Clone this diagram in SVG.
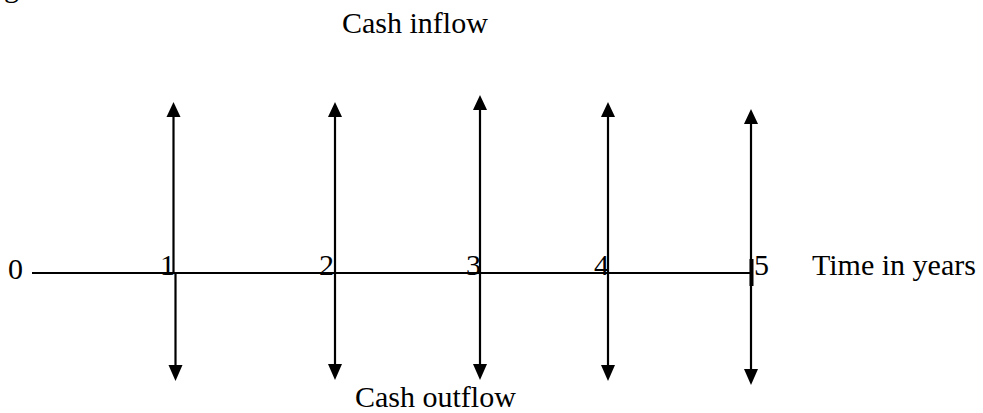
<svg xmlns="http://www.w3.org/2000/svg" width="983" height="413" viewBox="0 0 983 413">
<style>
  text { font-family: "Liberation Serif", "Times New Roman", serif; font-size: 30px; fill: #000; }
  .ln { stroke: #000; stroke-width: 2.2; fill: none; }
  .ah { fill: #000; }
</style>
<rect width="983" height="413" fill="#fff"/>
<text x="4" y="-3">g</text>
<g id="label-inflow"><text x="342" y="33">Cash inflow</text></g>
<g id="label-outflow"><text x="355" y="407">Cash outflow</text></g>
<g id="label-time"><text x="812" y="275">Time in years</text></g>
<g id="axis">
  <line class="ln" x1="32" y1="273" x2="751" y2="273"/>
  <rect x="749.5" y="259" width="4" height="27" fill="#000"/>
  <text x="8" y="279">0</text>
  <text x="160" y="275">1</text>
  <text x="319" y="275">2</text>
  <text x="466" y="275">3</text>
  <text x="594" y="275">4</text>
  <text x="754" y="275">5</text>
</g>
<g id="connectors">
  <!-- year 1 -->
  <line class="ln" x1="173.5" y1="114" x2="173.5" y2="273"/>
  <polygon class="ah" points="173.5,102 166.5,117 180.5,117"/>
  <line class="ln" x1="175.5" y1="273" x2="175.5" y2="366"/>
  <polygon class="ah" points="175.5,381 168.5,365 182.5,365"/>
  <!-- year 2 -->
  <line class="ln" x1="335" y1="114" x2="335" y2="366"/>
  <polygon class="ah" points="335,102 328,117 342,117"/>
  <polygon class="ah" points="335,380 328,364 342,364"/>
  <!-- year 3 -->
  <line class="ln" x1="480" y1="107" x2="480" y2="366"/>
  <polygon class="ah" points="480,95 473,110 487,110"/>
  <polygon class="ah" points="480,380 473,364 487,364"/>
  <!-- year 4 -->
  <line class="ln" x1="608" y1="114" x2="608" y2="366"/>
  <polygon class="ah" points="608,102 601,117 615,117"/>
  <polygon class="ah" points="608,381 601,365 615,365"/>
  <!-- year 5 -->
  <line class="ln" x1="751" y1="121" x2="751" y2="370"/>
  <polygon class="ah" points="751,109 744,124 758,124"/>
  <polygon class="ah" points="751,385 744,369 758,369"/>
</g>
</svg>
